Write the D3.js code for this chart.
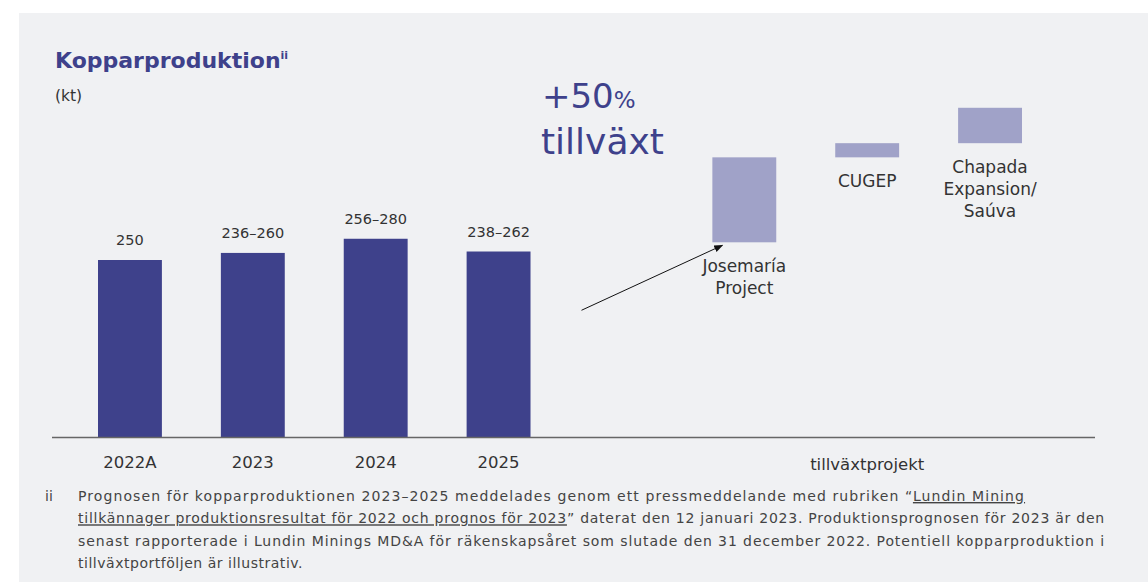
<!DOCTYPE html>
<html>
<head>
<meta charset="utf-8">
<script src="https://cdn.jsdelivr.net/npm/d3@7"></script>
<style>
  body { margin: 0; background: #fff; }
  text { font-family: "DejaVu Sans", sans-serif; }
</style>
</head>
<body>
<div id="chart"></div>
<script>
/* DATA */
const years = ["2022A", "2023", "2024", "2025"];
const prodLow = [250, 236, 256, 238];
const prodHigh = [250, 260, 280, 262];

const projects = ["Josemaría Project", "CUGEP", "Chapada Expansion/ Saúva"];
const projectLines = [["Josemaría", "Project"], ["CUGEP"], ["Chapada", "Expansion/", "Saúva"]];
const growthBase = 275;
const projectGrowth = [120, 20, 50];

const growthLabel = "+50";
// [plain, underlined, plain] per line, plus the width the line fills
const footnote = [
  ["Prognosen för kopparproduktionen 2023–2025 meddelades genom ett pressmeddelande med rubriken “", "Lundin Mining", ""],
  ["", "tillkännager produktionsresultat för 2022 och prognos för 2023", "” daterat den 12 januari 2023. Produktionsprognosen för 2023 är den"],
  ["senast rapporterade i Lundin Minings MD&A för räkenskapsåret som slutade den 31 december 2022. Potentiell kopparproduktion i", "", ""],
  ["tillväxtportföljen är illustrativ.", "", ""]
];
const footnoteWidths = [947, 1027, 1027, 225];

/* CONSTANTS */
const width = 1148, height = 582;
const baseline = 437;
const dark = "#3e418b", light = "#a0a2c8", ink = "#333";

const svg = d3.select("#chart").append("svg")
  .attr("width", width)
  .attr("height", height);

// panel
svg.append("rect")
  .attr("x", 19).attr("y", 13)
  .attr("width", width - 19).attr("height", height - 13)
  .attr("fill", "#f0f1f3");

/* SCALES */
const slots = years.concat(["gap"], projects);
const xScale = d3.scaleBand()
  .domain(slots)
  .range([98, 1022])
  .paddingInner(0.48)
  .paddingOuter(0);

const yScale = d3.scaleLinear()
  .domain([0, 250])
  .range([baseline, 260]);

// stretch a text to a width with letter-spacing
function fit(sel, target) {
  const node = sel.node();
  const w = node.getComputedTextLength();
  const n = node.textContent.length;
  sel.attr("letter-spacing", ((target - w) / n).toFixed(3));
}

// title
const title = svg.append("text")
  .attr("x", 55).attr("y", 68)
  .attr("fill", dark)
  .attr("font-size", 22)
  .attr("font-weight", 700)
  .text("Kopparproduktion");
title.append("tspan")
  .attr("font-size", 11)
  .attr("dy", -9)
  .text("ii");

svg.append("text")
  .attr("x", 55).attr("y", 101)
  .attr("fill", ink)
  .attr("font-size", 15.5)
  .text("(kt)");

// growth headline
const head = svg.append("text")
  .attr("x", 542).attr("y", 108)
  .attr("fill", dark)
  .attr("font-size", 34)
  .text(growthLabel);
head.append("tspan").attr("font-size", 23).text("%");

svg.append("text")
  .attr("x", 541).attr("y", 154)
  .attr("fill", dark)
  .attr("font-size", 36)
  .text("tillväxt");

/* PRODUCTION BARS */
const prod = years.map((y, i) => ({ year: y, low: prodLow[i], high: prodHigh[i] }));

svg.selectAll("rect.prod")
  .data(prod)
  .join("rect")
  .attr("class", "prod")
  .attr("x", d => xScale(d.year))
  .attr("width", xScale.bandwidth())
  .attr("y", d => yScale(d.high))
  .attr("height", d => baseline - yScale(d.high))
  .attr("fill", dark);

svg.selectAll("text.val")
  .data(prod)
  .join("text")
  .attr("class", "val")
  .attr("x", d => xScale(d.year) + xScale.bandwidth() / 2)
  .attr("y", d => yScale(d.high) - 15)
  .attr("text-anchor", "middle")
  .attr("font-size", 14.5)
  .attr("fill", ink)
  .text(d => d.low === d.high ? d.low : `${d.low}–${d.high}`);

/* GROWTH PROJECTS */
let run = growthBase;
const growth = projects.map((p, i) => {
  const d = { name: p, lines: projectLines[i], start: run, end: run + projectGrowth[i] };
  run += projectGrowth[i];
  return d;
});

svg.selectAll("rect.proj")
  .data(growth)
  .join("rect")
  .attr("class", "proj")
  .attr("x", d => xScale(d.name))
  .attr("width", xScale.bandwidth())
  .attr("y", d => yScale(d.end))
  .attr("height", d => yScale(d.start) - yScale(d.end))
  .attr("fill", light);

svg.selectAll("text.proj-label")
  .data(growth)
  .join("text")
  .attr("class", "proj-label")
  .attr("text-anchor", "middle")
  .attr("font-size", 17)
  .attr("fill", ink)
  .attr("x", d => xScale(d.name) + xScale.bandwidth() / 2)
  .attr("y", d => yScale(d.start) + 30)
  .selectAll("tspan")
  .data(d => d.lines.map(l => ({ l, x: xScale(d.name) + xScale.bandwidth() / 2 })))
  .join("tspan")
  .attr("x", d => d.x)
  .attr("dy", (d, i) => i === 0 ? 0 : 22)
  .text(d => d.l);

// arrow
svg.append("defs").append("marker")
  .attr("id", "head")
  .attr("viewBox", "0 0 10 10")
  .attr("refX", 9).attr("refY", 5)
  .attr("markerWidth", 9).attr("markerHeight", 9)
  .attr("orient", "auto")
  .append("path")
  .attr("d", "M0,1 L10,5 L0,9 Z")
  .attr("fill", "#111");

const arrowFrom = [xScale("2025") + xScale.bandwidth() + 51, yScale(179)];
const arrowTo = [xScale(projects[0]) + 10, yScale(growthBase) + 3];
svg.append("line")
  .attr("x1", arrowFrom[0]).attr("y1", arrowFrom[1])
  .attr("x2", arrowTo[0]).attr("y2", arrowTo[1])
  .attr("stroke", "#111")
  .attr("stroke-width", 1)
  .attr("marker-end", "url(#head)");

/* AXIS */
svg.append("line")
  .attr("x1", 52).attr("x2", 1095)
  .attr("y1", baseline + 0.5).attr("y2", baseline + 0.5)
  .attr("stroke", "#666")
  .attr("stroke-width", 1.3);

svg.selectAll("text.cat")
  .data(years)
  .join("text")
  .attr("class", "cat")
  .attr("x", d => xScale(d) + xScale.bandwidth() / 2)
  .attr("y", 468)
  .attr("text-anchor", "middle")
  .attr("font-size", 16.5)
  .attr("fill", ink)
  .text(d => d);

svg.append("text")
  .attr("x", xScale(projects[1]) + xScale.bandwidth() / 2)
  .attr("y", 470)
  .attr("text-anchor", "middle")
  .attr("font-size", 16.5)
  .attr("fill", ink)
  .text("tillväxtprojekt");

/* FOOTNOTE */
svg.append("text")
  .attr("x", 45).attr("y", 501)
  .attr("font-size", 14)
  .attr("fill", "#444")
  .text("ii");

footnote.forEach((parts, i) => {
  const t = svg.append("text")
    .attr("x", 78).attr("y", 501 + i * 22.3)
    .attr("font-size", 14)
    .attr("fill", "#444");
  if (parts[0]) t.append("tspan").text(parts[0]);
  if (parts[1]) t.append("tspan").attr("text-decoration", "underline").text(parts[1]);
  if (parts[2]) t.append("tspan").text(parts[2]);
  fit(t, footnoteWidths[i]);
});
</script>
</body>
</html>
